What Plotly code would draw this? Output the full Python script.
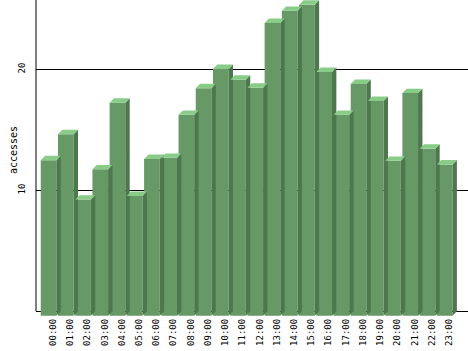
import plotly.graph_objects as go

hours = [f"{h:02d}:00" for h in range(24)]
accesses = [12.85, 15.0, 9.6, 12.1, 17.6, 9.9, 12.95, 13.05, 16.6, 18.8, 20.4, 19.5,
            18.85, 24.2, 25.2, 25.7, 20.15, 16.6, 19.15, 17.75, 12.8, 18.4, 13.8, 12.5]
y_ticks = [10, 20]

FRONT = "#669966"
TOP = "#88cc88"
SIDE = "#4d774d"

W = 0.91      # bar face width (category units)
DX = 0.255    # depth offset x (category units)
DY = 0.364    # depth offset y (value units)

xs = list(range(len(hours)))

side_x, side_y, top_x, top_y = [], [], [], []
for i, v in zip(xs, accesses):
    xl = i - DX - W / 2
    xr = i - DX + W / 2
    side_x += [xr, xr + DX, xr + DX, xr, xr, None]
    side_y += [v - DY, v, 0, -DY, v - DY, None]
    top_x += [xl, xl + DX, xr + DX, xr, xl, None]
    top_y += [v - DY, v, v, v - DY, v - DY, None]

fig = go.Figure()
fig.add_trace(go.Scatter(x=side_x, y=side_y, fill="toself", fillcolor=SIDE,
                         mode="lines", line=dict(width=0, color=SIDE),
                         hoverinfo="skip", showlegend=False))
fig.add_trace(go.Scatter(x=top_x, y=top_y, fill="toself", fillcolor=TOP,
                         mode="lines", line=dict(width=0, color=TOP),
                         hoverinfo="skip", showlegend=False))
fig.add_trace(go.Bar(x=[i - DX for i in xs], y=accesses, base=-DY, width=W,
                     marker=dict(color=FRONT, line=dict(width=0)),
                     showlegend=False))

ytop = 25.73
fig.update_layout(
    width=468, height=351,
    margin=dict(l=35.5, r=0, t=0, b=35),
    paper_bgcolor="white", plot_bgcolor="white",
    font=dict(family="DejaVu Sans Mono", size=9, color="black"),
    xaxis=dict(range=[-0.986, 24.1], tickmode="array", tickvals=xs, ticktext=hours,
               tickangle=-90, showgrid=False, zeroline=False, showline=False,
               ticks="", tickfont=dict(size=9)),
    yaxis=dict(range=[-0.39, ytop], tickmode="array", tickvals=y_ticks,
               tickangle=-90, showgrid=True, gridcolor="black", gridwidth=1,
               zeroline=True, zerolinecolor="black", zerolinewidth=1,
               showline=False, ticks="", ticklabelstandoff=8, tickfont=dict(size=9)),
    shapes=[dict(type="line", xref="paper", yref="y", x0=0, x1=0, y0=0, y1=ytop,
                 line=dict(color="black", width=1))],
    annotations=[dict(text="accesses", xref="paper", yref="paper",
                      x=(5 - 35.5) / 432.5, y=(316 - 150) / 316, textangle=-90,
                      showarrow=False, font=dict(family="DejaVu Sans Mono", size=10))],
)

fig.write_html("out.html")
